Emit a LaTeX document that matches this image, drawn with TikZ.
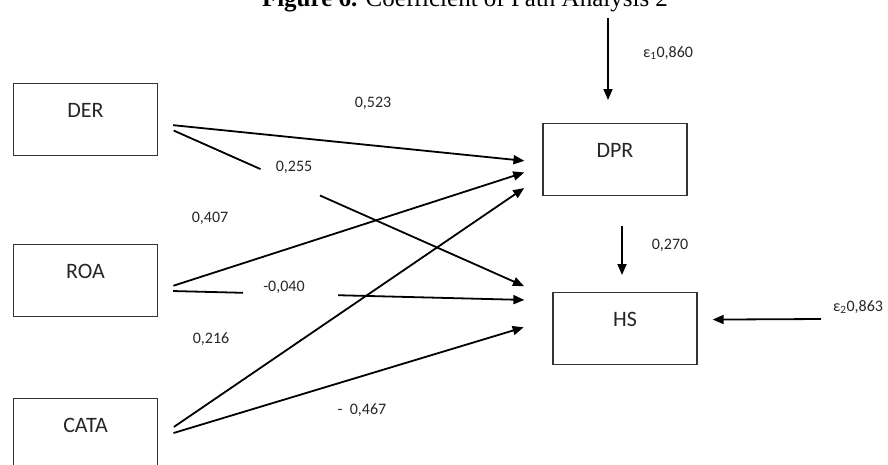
\documentclass[tikz,border=0pt]{standalone}
\usepackage{fontspec}
\setmainfont{Carlito}
\newfontfamily\titlefont{Liberation Serif}
\usetikzlibrary{arrows.meta}

\begin{document}
\begin{tikzpicture}[x=1pt,y=-1pt,>={Triangle[length=11pt,width=9pt]},
  varbox/.style={draw,line width=1.3pt,draw=black!80,minimum width=144pt,inner ysep=0pt,anchor=north,
    text height=34pt,text depth=38pt,font=\fontsize{22}{22}\selectfont,text=black!85},
  link/.style={->,line width=1.8pt},
  coef/.style={font=\fontsize{16}{16}\selectfont,text=black!85}]
\useasboundingbox (0,0) rectangle (888,464);
\node[font=\titlefont\fontsize{25}{25}\selectfont,anchor=base] (title) at (465,6) {\textbf{Figure 6.} Coefficient of Path Analysis 2};
% variables
\node[varbox] (DER) at (85.5,83) {DER};
\node[varbox] (ROA) at (85.5,244) {ROA};
\node[varbox] (CATA) at (85.5,398) {CATA};
\node[varbox] (DPR) at (615,123) {DPR};
\node[varbox] (HS) at (625,292) {HS};
% paths to DPR
\draw[link,shorten <=15pt,shorten >=18pt] ([yshift=-4pt]DER.east) -- ([yshift=-3pt]DPR.west);
\draw[link,shorten <=16pt,shorten >=19pt] ([yshift=-10pt]ROA.east) -- ([yshift=-7pt]DPR.west);
\draw[link,shorten <=19pt,shorten >=22pt] ([yshift=-3pt]CATA.east) -- ([yshift=-16pt]DPR.west);
% paths to HS
\draw[link,shorten <=17pt,shorten >=31pt,dash pattern=on 95pt off 65pt on 1000pt off 1pt] ([yshift=-4pt]DER.east) -- ([yshift=30pt]HS.west);
\draw[link,shorten <=15pt,shorten >=28pt,dash pattern=on 70pt off 95pt on 1000pt off 1pt] ([yshift=-10pt]ROA.east) -- ([yshift=28pt]HS.west);
\draw[link,shorten <=16pt,shorten >=30pt] ([yshift=-3pt]CATA.east) -- ([yshift=10pt]HS.west);
\draw[link,shorten <=30pt,shorten >=17pt] ([xshift=7pt]DPR.south) -- ([xshift=-3pt]HS.north);
% errors
\coordinate (e1) at (608,18);
\coordinate (e2) at (821,319);
\draw[link,shorten >=23pt] (e1) -- ([xshift=-7pt]DPR.north);
\draw[link,shorten >=15pt] (e2) -- ([yshift=9pt]HS.east);
% coefficients
\node[coef] (c523) at (373,103) {0,523};
\node[coef] (c255) at (294,167) {0,255};
\node[coef] (c407) at (210,218) {0,407};
\node[coef] (c040) at (284,287) {-0,040};
\node[coef] (c216) at (211,339) {0,216};
\node[coef] (c467) at (362,410) {-\ \ 0,467};
\node[coef] (c270) at (670,245) {0,270};
\node[coef] (e1val) at (668,53) {ε\textsubscript{1}0,860};
\node[coef] (e2val) at (858,307) {ε\textsubscript{2}0,863};
\end{tikzpicture}
\end{document}
